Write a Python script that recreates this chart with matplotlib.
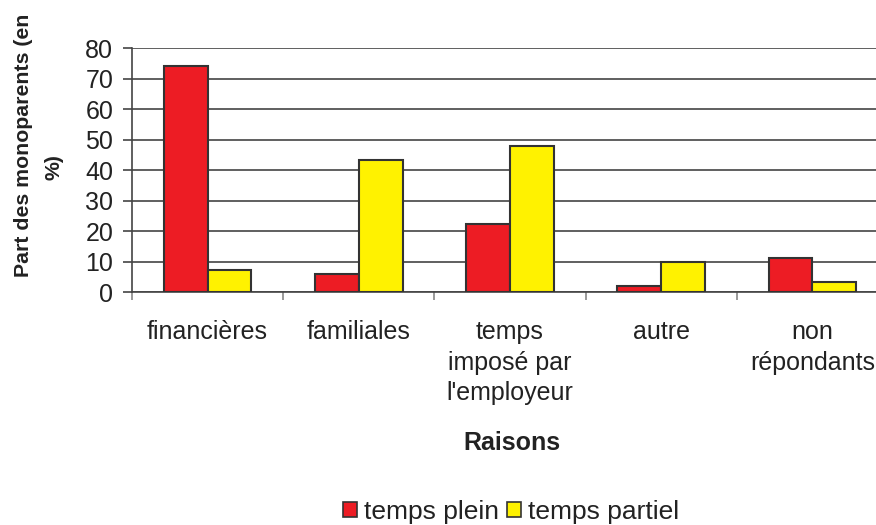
import matplotlib
matplotlib.use("Agg")
import matplotlib.pyplot as plt
import numpy as np
from matplotlib.patches import Patch

plt.rcParams['font.family'] = ['Liberation Sans', 'DejaVu Sans']

categories = ["financières", "familiales", "temps\nimposé par\nl'employeur", "autre", "non\nrépondants"]
temps_plein = [74.2, 5.8, 22.2, 2.1, 11.2]
temps_partiel = [7.2, 43.2, 48.0, 9.9, 3.2]
yticks = [0, 10, 20, 30, 40, 50, 60, 70, 80]

red = "#ed1c24"
yellow = "#fff200"
edge = "#333333"
txt = "#222222"

fig = plt.figure(figsize=(8.76, 5.25), dpi=100)
ax = fig.add_axes([132/876, 1-292/525, (888-132)/876, (292-48.3)/525])

x = np.arange(len(categories))
w = 0.29
ax.bar(x - w/2, temps_plein, w, color=red, edgecolor=edge, linewidth=1.5, zorder=3)
ax.bar(x + w/2, temps_partiel, w, color=yellow, edgecolor=edge, linewidth=1.5, zorder=3)

ax.set_xlim(-0.5, len(categories) - 0.5)
ax.set_ylim(0, 80)
ax.set_yticks(yticks)
ax.yaxis.grid(True, color="#444444", linewidth=1.2, zorder=0)
ax.set_axisbelow(True)

for s in ["top", "right"]:
    ax.spines[s].set_visible(False)
ax.spines["left"].set_color("#444444")
ax.spines["left"].set_linewidth(1.2)
ax.spines["bottom"].set_color("#444444")
ax.spines["bottom"].set_linewidth(1.2)

ax.set_xticks(np.arange(-0.5, len(categories), 1.0))
ax.set_xticklabels([])
ax.set_xticks(x, minor=True)
ax.set_xticklabels(categories, minor=True, fontsize=18, color=txt, linespacing=1.36)
ax.tick_params(axis='x', which='major', length=6, color="#888888", width=1.2)
ax.tick_params(axis='x', which='minor', length=0, pad=20)
ax.tick_params(axis='y', length=6.5, color="#444444", width=1.2, labelsize=18, labelcolor=txt, pad=7)

fig.text(24/876, 1-277/525, "Part des monoparents (en", rotation=90,
         ha="center", va="bottom", fontsize=15.3, fontweight="bold", color=txt)
fig.text(54/876, 1-167/525, "%)", rotation=90,
         ha="center", va="center", fontsize=15.3, fontweight="bold", color=txt)
fig.text(512/876, 1-443/525, "Raisons", ha="center", va="center", fontsize=18,
         fontweight="bold", color=txt)

handles = [Patch(facecolor=red, edgecolor=edge, linewidth=1.2, label="temps plein"),
           Patch(facecolor=yellow, edgecolor=edge, linewidth=1.2, label="temps partiel")]
fig.legend(handles=handles, loc="center", bbox_to_anchor=(511/876, 1-512/525), ncol=2,
           frameon=False, fontsize=19, handlelength=0.53, handleheight=0.53,
           handletextpad=0.27, columnspacing=0.3, labelcolor=txt, borderpad=0)

fig.savefig("out.png", dpi=100)
